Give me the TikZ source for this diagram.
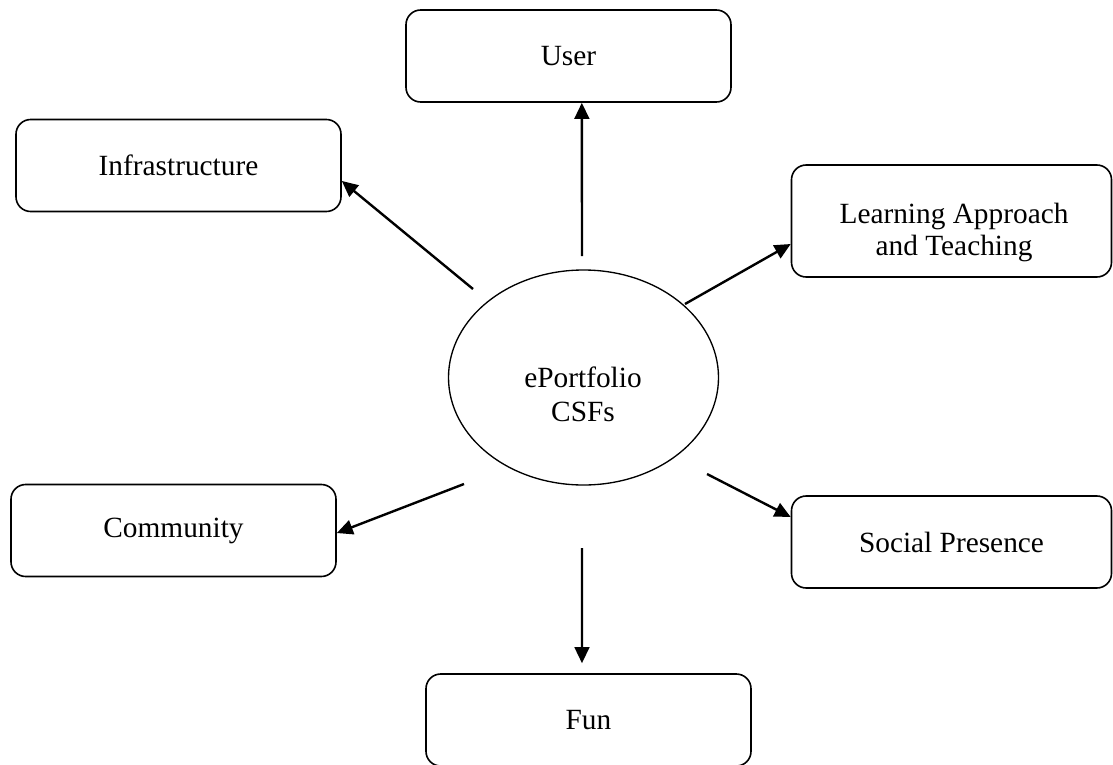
\documentclass[tikz,border=0pt]{standalone}
\usepackage{fontspec}
\setmainfont{Liberation Serif}
\usetikzlibrary{arrows.meta,shapes.geometric}
\begin{document}
\begin{tikzpicture}[x=0.75pt,y=-0.75pt,
  box/.style={draw, line width=1.2pt, rounded corners=11pt, minimum width=243.75pt, minimum height=69pt, inner sep=0pt, font=\fontsize{22}{24}\selectfont},
  conn/.style={line width=1.8pt, -{Triangle[length=12pt,width=11pt]}},
  lbl/.style={align=center, inner sep=0pt}]
\useasboundingbox (0,0) rectangle (1113,764);
\node[box] (user) at (568.5,56) {User};
\node[box] (infra) at (178.5,165.5) {Infrastructure};
\node[box, minimum width=240pt, minimum height=84pt] (learn) at (951.5,221) {};
\node[lbl, font=\fontsize{22}{24}\selectfont] (learntext) at (954,232) {Learning Approach\\and Teaching};
\node[draw, ellipse, line width=1pt, minimum width=202.5pt, minimum height=161.25pt, inner sep=0pt] (core) at (583.5,377.5) {};
\node[lbl, font=\fontsize{22}{25.5}\selectfont] (coretext) at (583,394) {ePortfolio\\CSFs};
\node[box] (comm) at (173.5,530.5) {Community};
\node[box, minimum width=240pt] (social) at (951.5,542) {Social Presence};
\node[box] (fun) at (588.5,720) {Fun};
\coordinate (cU) at (582,256);
\coordinate (cI) at (473,289);
\coordinate (cL) at (685,304);
\coordinate (cC) at (464,484);
\coordinate (cS) at (707,474);
\coordinate (cF) at (582,548);
\draw[conn] (cU) -- ([xshift=10pt]user.south);
\draw[conn] (cI) -- ([yshift=-11.6pt]infra.east);
\draw[conn] (cL) -- ([yshift=-17.25pt]learn.west);
\draw[conn] (cC) -- ([yshift=-1.9pt]comm.east);
\draw[conn] (cS) -- ([yshift=18.75pt]social.west);
\draw[conn] (cF) -- ([xshift=-4.9pt,yshift=7.5pt]fun.north);
\end{tikzpicture}
\end{document}
